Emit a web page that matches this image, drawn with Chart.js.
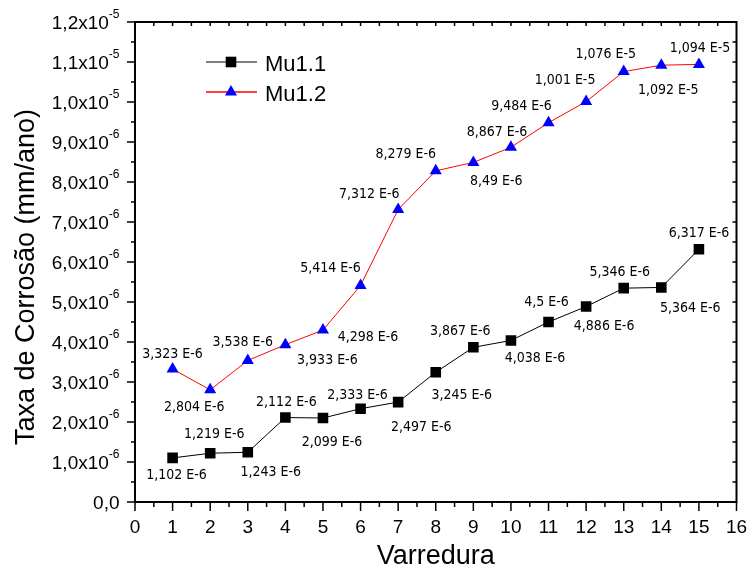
<!DOCTYPE html>
<html>
<head>
<meta charset="utf-8">
<script src="https://cdn.jsdelivr.net/npm/chart.js@4/dist/chart.umd.min.js"></script>
<style>
  html, body { margin: 0; padding: 0; background: #fff; }
  #wrap { width: 750px; height: 571px; position: relative; }
</style>
</head>
<body>
<div id="wrap"><canvas id="c" width="750" height="571"></canvas></div>
<script>
// Corrosion rate (mm/ano) per sweep for the two samples
const varredura = [1, 2, 3, 4, 5, 6, 7, 8, 9, 10, 11, 12, 13, 14, 15];
const mu11 = [1.102e-6, 1.219e-6, 1.243e-6, 2.112e-6, 2.099e-6, 2.333e-6, 2.497e-6, 3.245e-6,
              3.867e-6, 4.038e-6, 4.5e-6, 4.886e-6, 5.346e-6, 5.364e-6, 6.317e-6];
const mu12 = [3.323e-6, 2.804e-6, 3.538e-6, 3.933e-6, 4.298e-6, 5.414e-6, 7.312e-6, 8.279e-6,
              8.49e-6, 8.867e-6, 9.484e-6, 1.001e-5, 1.076e-5, 1.092e-5, 1.094e-5];
const seriesNames = ['Mu1.1', 'Mu1.2'];

const xTickLabels = ['0', '1', '2', '3', '4', '5', '6', '7', '8', '9', '10', '11', '12', '13', '14', '15', '16'];
const yTickValues = [0, 1e-6, 2e-6, 3e-6, 4e-6, 5e-6, 6e-6, 7e-6, 8e-6, 9e-6, 1e-5, 1.1e-5, 1.2e-5];
const yTickMantissa = ['0,0', '1,0x10', '2,0x10', '3,0x10', '4,0x10', '5,0x10', '6,0x10',
                       '7,0x10', '8,0x10', '9,0x10', '1,0x10', '1,1x10', '1,2x10'];
const yTickExponent = ['', '-6', '-6', '-6', '-6', '-6', '-6', '-6', '-6', '-6', '-5', '-5', '-5'];

const xTitle = 'Varredura';
const yTitle = 'Taxa de Corrosão (mm/ano)';

// Placement of each value label relative to its point (pixels)
const labelOffsetsMu11 = [[4, 17], [4, -19], [23, 20], [1, -15], [9, 24], [-3, -13], [23, 25], [26, 23],
                          [-13, -16], [24, 18], [-2, -20], [18, 20], [-4, -16], [29, 21], [0, -16]];
const labelOffsetsMu12 = [[0, -15], [-16, 18], [-5, -18], [42, 16], [45, 7], [-30, -17], [-29, -15], [-30, -16],
                          [23, 19], [-14, -15], [-27, -16], [-21, -21], [-18, -17], [7, 25], [1, -16]];

const SANS = '"Liberation Sans", Arial, sans-serif';
const LABEL_FONT = '14px "DejaVu Sans Condensed", "DejaVu Sans", sans-serif';

function sciLabel(v) {
  const e = Math.floor(Math.log10(v) + 1e-9);
  const m = (v / Math.pow(10, e)).toFixed(3).replace(/0+$/, '').replace(/\.$/, '');
  return m.replace('.', ',') + ' E' + e;
}

const toPoints = ys => varredura.map((x, i) => ({ x, y: ys[i] }));

const axesAndText = {
  id: 'axesAndText',
  afterDraw(chart) {
    const { ctx, chartArea: a, scales: { x, y } } = chart;
    ctx.save();
    const seg = (x1, y1, x2, y2) => { ctx.beginPath(); ctx.moveTo(x1, y1); ctx.lineTo(x2, y2); ctx.stroke(); };

    // frame
    ctx.strokeStyle = '#000';
    ctx.lineWidth = 2;
    ctx.strokeRect(a.left, a.top, a.right - a.left, a.bottom - a.top);

    // x ticks: major outward, minor outward, small inward ticks on top edge
    ctx.lineWidth = 1.5;
    const xMax = xTickLabels.length - 1;
    for (let k = 0; k <= xMax * 2; k++) {
      const v = k / 2;
      const px = x.getPixelForValue(v);
      const major = k % 2 === 0;
      seg(px, a.bottom, px, a.bottom + (major ? 9 : 5));
      if (k > 0 && k < xMax * 2) seg(px, a.top, px, a.top + 4);
    }
    // y ticks: major outward, minor outward, small inward ticks on right edge
    const yStep = yTickValues[1] - yTickValues[0];
    for (let k = 0; k <= (yTickValues.length - 1) * 2; k++) {
      const v = k * yStep / 2;
      const py = y.getPixelForValue(v);
      const major = k % 2 === 0;
      seg(a.left - (major ? 8 : 4), py, a.left, py);
      if (k > 0 && k < (yTickValues.length - 1) * 2) seg(a.right - 4, py, a.right, py);
    }

    // x tick labels
    ctx.fillStyle = '#000';
    ctx.font = '19px ' + SANS;
    ctx.textAlign = 'center';
    ctx.textBaseline = 'middle';
    xTickLabels.forEach((t, i) => ctx.fillText(t, x.getPixelForValue(i), a.bottom + 26));

    // y tick labels with superscript exponent
    const rightEdge = a.left - 15.5;
    yTickValues.forEach((v, i) => {
      const py = y.getPixelForValue(v);
      ctx.font = '19px ' + SANS;
      const mw = ctx.measureText(yTickMantissa[i]).width;
      ctx.font = '12px ' + SANS;
      const ew = yTickExponent[i] ? ctx.measureText(yTickExponent[i]).width : 0;
      const x0 = rightEdge - mw - ew;
      ctx.textAlign = 'left';
      ctx.textBaseline = 'alphabetic';
      ctx.font = '19px ' + SANS;
      ctx.fillText(yTickMantissa[i], x0, py + 7);
      if (ew) {
        ctx.font = '12px ' + SANS;
        ctx.fillText(yTickExponent[i], x0 + mw, py - 4);
      }
    });

    // axis titles
    ctx.font = '27px ' + SANS;
    ctx.textAlign = 'center';
    ctx.textBaseline = 'middle';
    ctx.fillText(xTitle, (a.left + a.right) / 2, 557);
    ctx.save();
    ctx.translate(27, (a.top + a.bottom) / 2 + 15);
    ctx.rotate(-Math.PI / 2);
    ctx.fillText(yTitle, 0, 0);
    ctx.restore();

    // value labels
    ctx.font = LABEL_FONT;
    ctx.textAlign = 'center';
    ctx.textBaseline = 'middle';
    const offs = [labelOffsetsMu11, labelOffsetsMu12];
    chart.data.datasets.forEach((ds, di) => {
      chart.getDatasetMeta(di).data.forEach((pt, i) => {
        const [dx, dy] = offs[di][i];
        ctx.fillText(sciLabel(ds.data[i].y), pt.x + dx, pt.y + dy);
      });
    });

    // legend
    const legendRows = [62, 92];
    chart.data.datasets.forEach((ds, di) => {
      const ly = legendRows[di];
      ctx.strokeStyle = ds.borderColor;
      ctx.lineWidth = di === 0 ? 1 : 1.5;
      seg(206, ly, 257, ly);
      ctx.fillStyle = ds.pointBackgroundColor;
      Chart.helpers.drawPoint(ctx, { pointStyle: ds.pointStyle, radius: ds.pointRadius, borderWidth: 0 }, 231, ly);
      ctx.fillStyle = '#000';
      ctx.font = '22px ' + SANS;
      ctx.textAlign = 'left';
      ctx.textBaseline = 'alphabetic';
      ctx.fillText(seriesNames[di], 265, ly + 9);
    });

    ctx.restore();
  }
};

new Chart(document.getElementById('c'), {
  type: 'line',
  data: {
    datasets: [
      {
        label: seriesNames[0],
        data: toPoints(mu11),
        borderColor: '#000000',
        borderWidth: 1,
        pointStyle: 'rect',
        pointRadius: 7.5,
        pointBackgroundColor: '#000000',
        pointBorderWidth: 0,
        tension: 0
      },
      {
        label: seriesNames[1],
        data: toPoints(mu12),
        borderColor: '#ff0000',
        borderWidth: 1,
        pointStyle: 'triangle',
        pointRadius: 7,
        pointBackgroundColor: '#0000ff',
        pointBorderWidth: 0,
        tension: 0
      }
    ]
  },
  options: {
    responsive: false,
    animation: false,
    devicePixelRatio: 1,
    layout: { padding: { left: 135, top: 22, right: 13.5, bottom: 69 } },
    scales: {
      x: { type: 'linear', min: 0, max: 16, display: false },
      y: { type: 'linear', min: 0, max: 1.2e-5, display: false }
    },
    plugins: { legend: { display: false }, tooltip: { enabled: false } }
  },
  plugins: [axesAndText]
});
</script>
</body>
</html>
